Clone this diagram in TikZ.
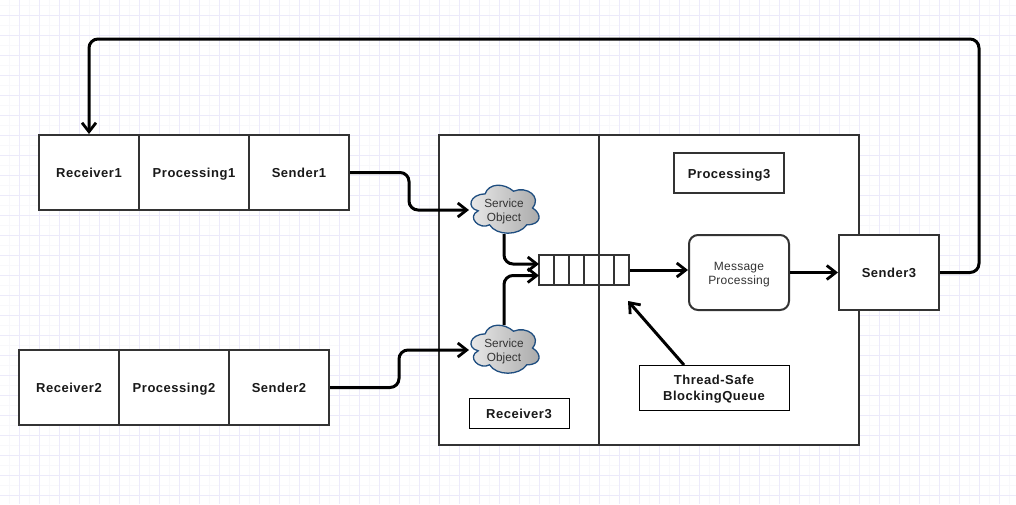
\documentclass[tikz,border=0pt]{standalone}
\usepackage{fontspec}
\setmainfont{Liberation Sans}
\newfontfamily\lblfont[LetterSpace=4]{Liberation Sans}
\newfontfamily\softfont[LetterSpace=2]{Liberation Sans}
\usetikzlibrary{arrows.meta}
\definecolor{gridmaj}{HTML}{ECEAFA}
\definecolor{gridmin}{HTML}{F8F8FB}
\definecolor{ink}{HTML}{333333}
\definecolor{cloudedge}{HTML}{1F4E80}
\tikzset{
  x=1pt,y=-1pt,
  box/.style={draw=ink,line width=2pt,fill=white,minimum height=75pt,inner sep=0pt,align=center,font=\lblfont\fontsize{13pt}{16pt}\selectfont\bfseries,text=black!90},
  oneline/.style={text height=11pt,text depth=1pt},
  thinbox/.style={box,line width=1pt,draw=black,minimum height=30pt},
  softbox/.style={box},
  textonly/.style={inner sep=0pt,align=center},
  softtext/.style={textonly,font=\softfont\fontsize{12pt}{14pt}\selectfont,text=ink},
  boldtext/.style={textonly,font=\lblfont\fontsize{13pt}{16pt}\selectfont\bfseries,text=black!90},
  cell/.style={draw=ink,line width=2pt,fill=white,minimum width=15pt,minimum height=30pt,inner sep=0pt},
  cloudarea/.style={minimum width=76pt,minimum height=56pt,inner sep=0pt,align=center,font=\fontsize{11.8pt}{14pt}\selectfont,text=ink},
  conn/.style={draw=black,line width=3pt,rounded corners=9pt,-{Straight Barb[length=9pt,width=14pt,line width=2.8pt]}},
}
% draw.io cloud outline in a 76 x 56 box centred on #1,#2
\newcommand{\cloudshape}[2]{%
  \begin{scope}[shift={(#1-38,#2-28)},x=76pt,y=-56pt]
    \path[left color=gray!15,right color=gray!68,draw=cloudedge,line width=1.3pt]
      (0.25,0.25) .. controls (0.05,0.25) and (0,0.5) .. (0.16,0.55)
      .. controls (0,0.66) and (0.18,0.9) .. (0.31,0.8)
      .. controls (0.4,1) and (0.7,1) .. (0.8,0.8)
      .. controls (1,0.8) and (1,0.6) .. (0.875,0.5)
      .. controls (1,0.3) and (0.8,0.1) .. (0.625,0.2)
      .. controls (0.5,0.05) and (0.3,0.05) .. (0.25,0.25) -- cycle;
  \end{scope}}
\begin{document}
\begin{tikzpicture}
\useasboundingbox (0,0) rectangle (1016,504);
\fill[white] (0,0) rectangle (1016,504);
% grid
\foreach \g in {9.5,29.5,...,1016}{\draw[gridmin,line width=1pt] (\g,0) -- (\g,504);}
\foreach \g in {5.5,25.5,...,504}{\draw[gridmin,line width=1pt] (0,\g) -- (1016,\g);}
\foreach \g in {19.5,39.5,...,1016}{\draw[gridmaj,line width=1pt] (\g,0) -- (\g,504);}
\foreach \g in {15.5,35.5,...,504}{\draw[gridmaj,line width=1pt] (0,\g) -- (1016,\g);}

% group 1
\node[box,oneline,minimum width=100pt] (r1) at (89,172.5) {Receiver1};
\node[box,oneline,minimum width=110pt] (p1) at (194,172.5) {Processing1};
\node[box,oneline,minimum width=100pt] (s1) at (299,172.5) {Sender1};
% group 2
\node[box,oneline,minimum width=100pt] (r2) at (69,387.5) {Receiver2};
\node[box,oneline,minimum width=110pt] (p2) at (174,387.5) {Processing2};
\node[box,oneline,minimum width=100pt] (s2) at (279,387.5) {Sender2};
% big box
\node[box,minimum width=160pt,minimum height=310pt] (left) at (519,290) {};
\node[box,minimum width=260pt,minimum height=310pt] (right) at (729,290) {};
\node[thinbox,oneline,minimum width=100pt] (r3) at (519,413) {Receiver3};
\node[box,oneline,line width=1.6pt,minimum width=110pt,minimum height=40pt] (p3) at (729,173) {Processing3};
\node[box,rounded corners=9pt,minimum width=100pt] (mp) at (739,272.5) {};
\node[softtext] (mplabel) at (739,274.5) {Message\\Processing};
\node[box,oneline,minimum width=100pt] (s3) at (889,272.5) {Sender3};
\node[thinbox,minimum width=150pt,minimum height=45pt] (ts) at (714,387.5) {};
\node[boldtext] (tslabel) at (714,389.5) {Thread-Safe\\BlockingQueue};

% queue
\foreach \i [count=\n from 0] in {1,...,6}{
  \node[cell] (q\i) at (546.5+15*\n,270) {};
}
% clouds
\cloudshape{504}{208}
\cloudshape{504}{348}
\node[cloudarea] (c1) at (504,211.5) {Service\\Object};
\node[cloudarea] (c2) at (504,351.5) {Service\\Object};

% connector ends
\coordinate (c1in) at (469,210);
\coordinate (c2in) at (469,350);
\coordinate (c1out) at (504,234);
\coordinate (c2out) at (504,325);
\coordinate (qa) at (539,264);
\coordinate (qb) at (539,275.5);
\coordinate (tip) at (628,301);
\coordinate (tsout) at (684,365);

\draw[conn] (s1.east) -- (409,172.5) -- (409,210) -- (c1in);
\draw[conn] (s2.east) -- (399,387.5) -- (399,350) -- (c2in);
\draw[conn] (c1out) -- (504,264) -- (qa);
\draw[conn] (c2out) -- (504,275.5) -- (qb);
\draw[conn] (q6.east) -- (q6.east -| mp.west);
\draw[conn] (mp.east) -- (s3.west);
\draw[conn] (tsout) -- (tip);
\draw[conn] (s3.east) -- (979,272.5) -- (979,39) -- (89,39) -- (r1.north);
\end{tikzpicture}
\end{document}
